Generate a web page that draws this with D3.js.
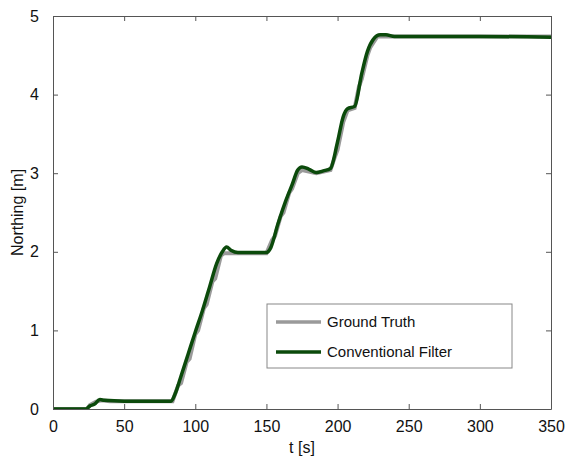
<!DOCTYPE html>
<html>
<head>
<meta charset="utf-8">
<script src="https://cdn.jsdelivr.net/npm/d3@7"></script>
<style>
  body { margin: 0; background: #fff; }
  text { font-family: "Liberation Sans", Arial, sans-serif; fill: #111; }
</style>
</head>
<body>
<div id="chart"></div>
<script>
// northing vs time: ground truth and conventional filter
var truthT = [0, 24, 26, 30, 34, 40, 84, 88, 90, 94, 96, 100, 102, 106, 108, 112, 114, 118, 120,
              150, 154, 156, 160, 162, 166, 168, 172, 175, 185, 195, 198, 200, 204, 207, 212,
              215, 217, 221, 223, 228, 350];
var truthN = [0, 0, 0.05, 0.09, 0.11, 0.1, 0.1, 0.3, 0.33, 0.6, 0.64, 0.95, 1.0, 1.28, 1.33, 1.62, 1.66, 1.95, 1.98,
              1.98, 2.15, 2.2, 2.45, 2.5, 2.75, 2.8, 3.0, 3.04, 3.0, 3.04, 3.2, 3.3, 3.65, 3.8, 3.83,
              4.1, 4.2, 4.5, 4.6, 4.74, 4.74];

var filterT = [0, 23, 26, 29, 33, 36, 50, 70, 83, 86, 90, 95, 100, 105, 110, 115, 119, 122, 125, 130,
               150, 153, 158, 163, 168, 172, 175, 180, 185, 190, 195, 200, 204, 207, 212, 217, 221,
               225, 230, 234, 240, 260, 300, 350];
var filterN = [0, 0, 0.04, 0.06, 0.12, 0.11, 0.1, 0.1, 0.1, 0.2, 0.42, 0.7, 0.98, 1.25, 1.55, 1.85, 2.0, 2.06, 2.02, 1.99,
               1.99, 2.05, 2.35, 2.62, 2.85, 3.04, 3.08, 3.05, 3.01, 3.03, 3.06, 3.4, 3.72, 3.82, 3.85, 4.27, 4.55,
               4.7, 4.76, 4.76, 4.74, 4.74, 4.74, 4.73];

var xTicks = [0, 50, 100, 150, 200, 250, 300, 350];
var yTicks = [0, 1, 2, 3, 4, 5];

var width = 565,
    height = 458;
var margin = {top: 16, right: 14, bottom: 49, left: 53};

var svg = d3.select("#chart").append("svg")
    .attr("width", width)
    .attr("height", height);

var x = d3.scaleLinear().domain([0, 350]).range([margin.left, width - margin.right]);
var y = d3.scaleLinear().domain([0, 5]).range([height - margin.bottom, margin.top]);

var truth = truthT.map(function(t, i) { return [t, truthN[i]]; });
var filt = filterT.map(function(t, i) { return [t, filterN[i]]; });

svg.append("clipPath").attr("id", "clip")
  .append("rect")
    .attr("x", margin.left).attr("y", margin.top)
    .attr("width", width - margin.left - margin.right)
    .attr("height", height - margin.top - margin.bottom);

var g = svg.append("g").attr("clip-path", "url(#clip)");

var line = d3.line().x(function(d) { return x(d[0]); }).y(function(d) { return y(d[1]); });

g.append("path")
    .datum(truth)
    .attr("fill", "none")
    .attr("stroke", "#9a9a9a")
    .attr("stroke-width", 4)
    .attr("d", line);

g.append("path")
    .datum(filt)
    .attr("fill", "none")
    .attr("stroke", "#0b4a0b")
    .attr("stroke-width", 3.5)
    .attr("stroke-linejoin", "round")
    .attr("d", line.curve(d3.curveMonotoneX));

// frame with inward ticks on all four sides
var axCol = "#555";
function styleAxis(sel) {
  sel.select(".domain").attr("stroke", axCol);
  sel.selectAll(".tick line").attr("stroke", axCol);
  sel.selectAll(".tick text").attr("font-size", 16).attr("fill", "#111");
}

svg.append("g")
    .attr("transform", "translate(0," + (height - margin.bottom) + ")")
    .call(d3.axisBottom(x).tickValues(xTicks).tickSizeInner(-5).tickSizeOuter(0).tickPadding(12))
    .call(styleAxis);
svg.append("g")
    .attr("transform", "translate(0," + margin.top + ")")
    .call(d3.axisTop(x).tickValues(xTicks).tickSizeInner(-5).tickSizeOuter(0).tickFormat(""))
    .call(styleAxis);
svg.append("g")
    .attr("transform", "translate(" + margin.left + ",0)")
    .call(d3.axisLeft(y).tickValues(yTicks).tickFormat(d3.format("d")).tickSizeInner(-5).tickSizeOuter(0).tickPadding(14))
    .call(styleAxis);
svg.append("g")
    .attr("transform", "translate(" + (width - margin.right) + ",0)")
    .call(d3.axisRight(y).tickValues(yTicks).tickSizeInner(-5).tickSizeOuter(0).tickFormat(""))
    .call(styleAxis);

// axis labels
svg.append("text")
    .attr("x", x(175)).attr("y", 453)
    .attr("text-anchor", "middle")
    .attr("font-size", 16)
    .text("t [s]");
svg.append("text")
    .attr("transform", "translate(23," + y(2.5) + ") rotate(-90)")
    .attr("text-anchor", "middle")
    .attr("font-size", 16)
    .text("Northing [m]");

// legend
var leg = svg.append("g").attr("transform", "translate(267,304)");
leg.append("rect")
    .attr("width", 245).attr("height", 64)
    .attr("fill", "#fff").attr("stroke", "#888");
var items = [["Ground Truth", "#9a9a9a"], ["Conventional Filter", "#0b4a0b"]];
items.forEach(function(it, i) {
  var yy = 18 + i * 30;
  leg.append("line")
      .attr("x1", 9).attr("x2", 54).attr("y1", yy).attr("y2", yy)
      .attr("stroke", it[1]).attr("stroke-width", 3.5);
  leg.append("text")
      .attr("x", 60).attr("y", yy + 5)
      .attr("font-size", 15)
      .text(it[0]);
});
</script>
</body>
</html>
